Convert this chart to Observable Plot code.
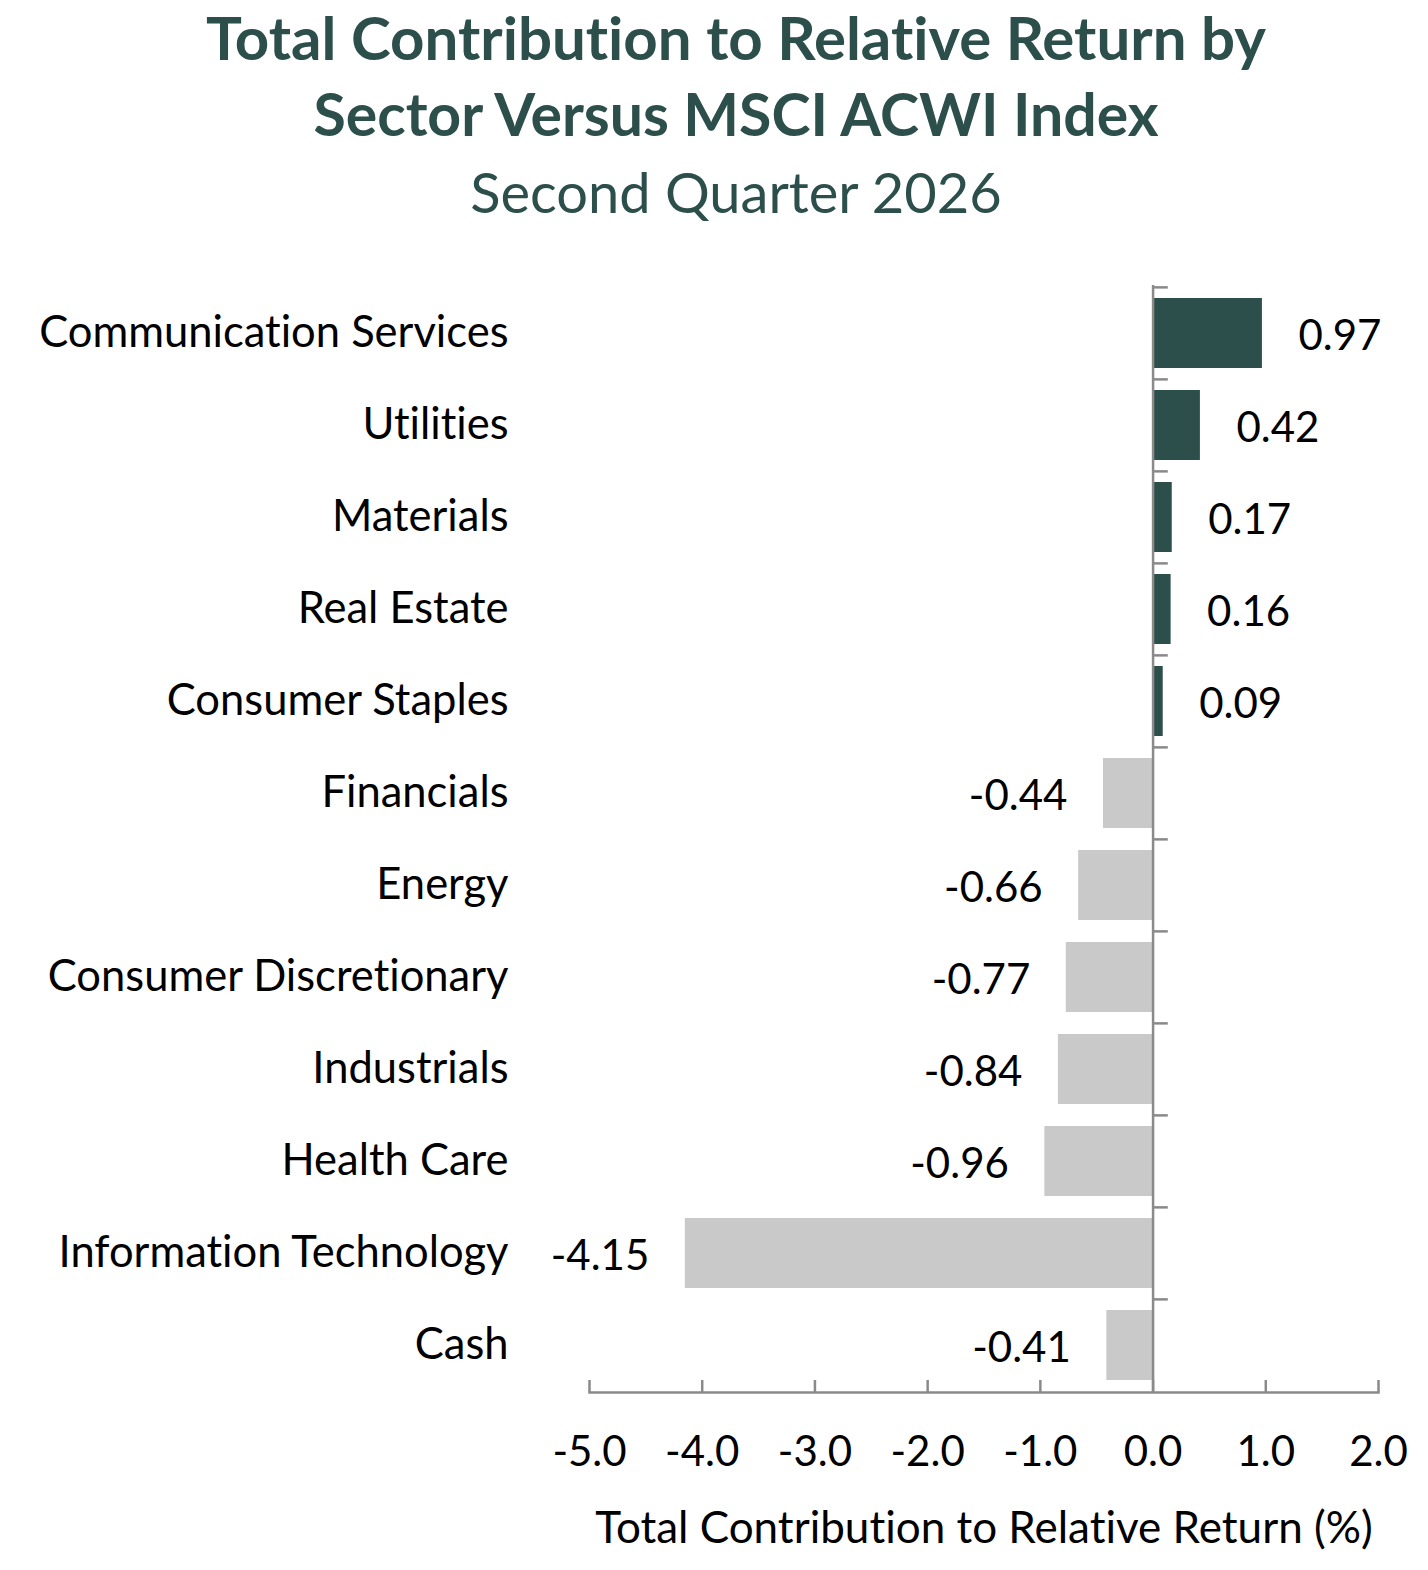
<!DOCTYPE html>
<html>
<head>
<meta charset="utf-8">
<script src="https://cdn.jsdelivr.net/npm/d3@7"></script>
<script src="https://cdn.jsdelivr.net/npm/@observablehq/plot@0.6"></script>
<style>
  html, body { margin: 0; padding: 0; background: #fff; }
  #wrap { width: 1428px; font-variant-ligatures: none; }
  .head { height: 250px; position: relative; font-family: Lato, "Open Sans", sans-serif; color: #2D4F4B; }
  .t1, .t2, .t3 { position: absolute; left: 44px; width: 1384px; text-align: center; white-space: nowrap; line-height: 1.2; }
  .t1 { top: 1px; font-weight: 700; font-size: 60px; }
  .t2 { top: 79px; font-weight: 700; font-size: 59px; }
  .t3 { top: 158px; font-weight: 400; font-size: 56px; }
  svg text { font-variant-ligatures: none; }
</style>
</head>
<body>
<div id="wrap">
  <div class="head">
    <div class="t1">Total Contribution to Relative Return by</div>
    <div class="t2">Sector Versus MSCI ACWI Index</div>
    <div class="t3">Second Quarter 2026</div>
  </div>
  <div id="chart"></div>
</div>
<script>
const sectors = ["Communication Services", "Utilities", "Materials", "Real Estate", "Consumer Staples", "Financials", "Energy", "Consumer Discretionary", "Industrials", "Health Care", "Information Technology", "Cash"];
const values = [0.97, 0.42, 0.17, 0.16, 0.09, -0.44, -0.66, -0.77, -0.84, -0.96, -4.15, -0.41];
const xTicks = [-5, -4, -3, -2, -1, 0, 1, 2];
const xLabel = "Total Contribution to Relative Return (%)";

const data = sectors.map((s, i) => ({sector: s, value: values[i]}));
const pos = data.filter(d => d.value >= 0);
const neg = data.filter(d => d.value < 0);

const dark = "#2D4F4B", light = "#C9C9C9", axisGray = "#8A8A8A";
const step = (1142 - 35) / 12;

const chart = Plot.plot({
  width: 1428,
  height: 1320,
  marginTop: 35,
  marginBottom: 178,
  marginLeft: 589,
  marginRight: 50,
  style: {fontFamily: "Lato, 'Open Sans', sans-serif", fontSize: "42px", color: "#000", background: "#fff"},
  x: {domain: [-5, 2], ticks: xTicks, tickFormat: d => d.toFixed(1)},
  y: {domain: sectors, paddingInner: 0.24, paddingOuter: 0.12},
  marks: [
    Plot.barX(data, {x: "value", y: "sector", fill: d => d.value >= 0 ? dark : light}),
    Plot.ruleX([0], {stroke: axisGray, strokeWidth: 2.5}),
    Plot.ruleY(sectors, {y: d => d, x1: 0, x2: 0.135, dy: -step / 2, stroke: axisGray, strokeWidth: 2.5}),
    Plot.frame({anchor: "bottom", stroke: axisGray, strokeWidth: 2.5}),
    Plot.axisX({ticks: xTicks, tickSize: -12, stroke: axisGray, strokeWidth: 2.5, tickFormat: () => "", label: null}),
    Plot.axisX({ticks: xTicks, tickSize: 0, tickPadding: 44, tickFormat: d => d.toFixed(1), fill: "#000", fontSize: 42, label: null}),
    Plot.axisX({ticks: [], tickSize: 0, fill: "#000", fontSize: 44,
      label: xLabel, labelAnchor: "center", labelArrow: "none", labelOffset: 150}),
    Plot.axisY({tickSize: 0, tickPadding: 81, fill: "#000", fontSize: 43.5, label: null}),
    Plot.text(pos, {x: "value", y: "sector", text: d => d.value.toFixed(2), textAnchor: "start", dx: 36, dy: 3, fill: "#000", fontSize: 42}),
    Plot.text(neg, {x: "value", y: "sector", text: d => d.value.toFixed(2), textAnchor: "end", dx: -36, dy: 3, fill: "#000", fontSize: 42})
  ]
});
document.getElementById("chart").appendChild(chart);
</script>
</body>
</html>
